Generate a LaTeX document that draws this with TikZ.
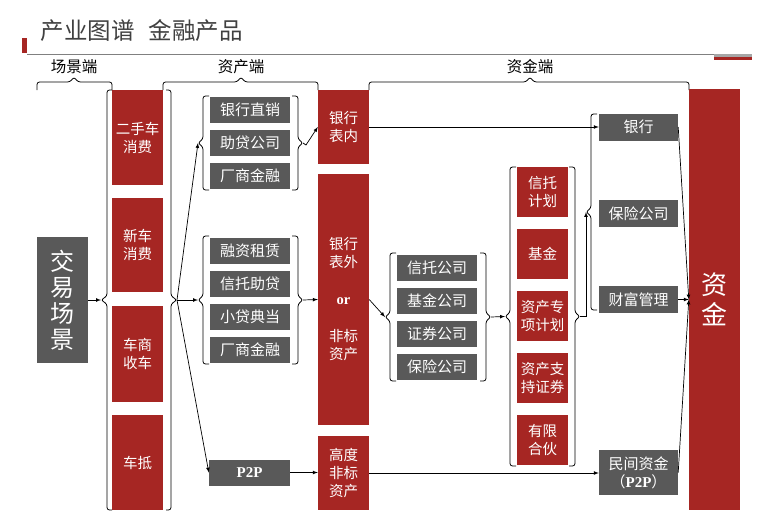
\documentclass[tikz,border=0pt]{standalone}
\usepackage{fontspec}
\setmainfont{Noto Sans CJK SC}
\newfontfamily\tnr{Liberation Serif}
\definecolor{brickred}{RGB}{166,38,35}
\definecolor{slate}{RGB}{89,89,89}
\tikzset{
  redbox/.style={fill=brickred,text=white,minimum width=51pt,inner sep=0pt,align=center,font=\fontsize{14.5}{18}\selectfont},
  greybox/.style={fill=slate,text=white,minimum width=80pt,minimum height=26pt,inner sep=0pt,align=center,font=\fontsize{15}{18}\selectfont},
  brk/.style={line width=0.8pt,rounded corners=2.5pt},
  link/.style={-latex,line width=0.7pt}
}
% side bracket: end x, bar x, tip x, top y, bottom y
\newcommand{\sidebrk}[5]{\draw[brk] (#1,#4)--(#2,#4)--(#2,{(#4+#5)/2-4})--(#3,{(#4+#5)/2})--(#2,{(#4+#5)/2+4})--(#2,#5)--(#1,#5);}
% top bracket: left x, right x, tip x
\newcommand{\topbrk}[3]{\draw[brk] (#1,90)--(#1,82)--(#3-4,82)--(#3,77)--(#3+4,82)--(#2,82)--(#2,90);}
\begin{document}
\begin{tikzpicture}[x=1pt,y=-1pt]
\useasboundingbox (0,0) rectangle (780,523);
% title bar
\fill[brickred] (22,38) rectangle (27,53);
\draw[gray,line width=1pt] (27,54)--(714,54);
\fill[brickred] (714,54) rectangle (752,60); \fill[gray!70] (714,54) rectangle (752,57);
\node[anchor=west,font=\fontsize{23.5}{26}\selectfont,text=black!75] (title) at (37,31) {产业图谱\hspace{0.6em}金融产品};
% headers and braces
\node[font=\fontsize{15.5}{18}\selectfont] (hscene) at (74,67) {场景端};
\node[font=\fontsize{15.5}{18}\selectfont] (hasset) at (241,67) {资产端};
\node[font=\fontsize{15.5}{18}\selectfont] (hfund) at (530,67) {资金端};
\topbrk{37}{112}{74} \topbrk{163}{318}{241} \topbrk{369}{689}{530}
% scene
\node[fill=slate,text=white,minimum width=51pt,minimum height=126pt,inner sep=0pt,align=center,font=\fontsize{24}{26}\selectfont] (scene) at (62.5,300) {交\\易\\场\\景};
\node[redbox,minimum height=95pt] (usedcar) at (137.5,137.5) {二手车\\消费};
\node[redbox,minimum height=94pt] (newcar) at (137.5,245) {新车\\消费};
\node[redbox,minimum height=96pt] (dealer) at (137.5,354) {车商\\收车};
\node[redbox,minimum height=95pt] (pledge) at (137.5,462.5) {车抵};
\sidebrk{112}{107}{101}{90}{510} \sidebrk{166}{171}{177}{90}{510}
\coordinate (t0l) at (101,300); \coordinate (t0r) at (177,300);
% asset side
\foreach \t [count=\i] in {银行直销,助贷公司,厂商金融} \node[greybox] (direct\i) at (250,77+33*\i) {\t};
\sidebrk{209}{203}{198}{96}{190} \sidebrk{292}{298}{303}{96}{190}
\coordinate (t1l) at (198,143); \coordinate (t1r) at (303,143);
\foreach \t [count=\i] in {融资租赁,信托助贷,小贷典当,厂商金融} \node[greybox] (lease\i) at (250,218+33*\i) {\t};
\sidebrk{209}{203}{198}{236}{364} \sidebrk{292}{298}{303}{236}{364}
\coordinate (t2l) at (198,300); \coordinate (t2r) at (303,300);
\node[greybox,minimum width=81pt,font=\tnr\bfseries\fontsize{15}{18}\selectfont] (ptp) at (249.5,472.5) {P2P};
\node[redbox,minimum height=74pt] (inside) at (343.5,127) {银行\\表内};
\node[redbox,minimum height=251pt] (outside) at (343.5,299.5) {银行\\表外\\[19pt]{\tnr\bfseries or}\\[19pt]非标\\资产};
\node[redbox,minimum height=74pt] (high) at (343.5,473) {高度\\非标\\资产};
% fund side
\foreach \t [count=\i] in {信托公司,基金公司,证券公司,保险公司} \node[greybox] (corp\i) at (437,235+33*\i) {\t};
\sidebrk{396}{390}{385}{253}{381} \sidebrk{480}{486}{491}{253}{381}
\coordinate (t3l) at (385,317); \coordinate (t3r) at (491,317);
\foreach \t [count=\i] in {信托\\计划,基金,资产专\\项计划,资产支\\持证券,有限\\合伙} \node[redbox,minimum height=50pt] (plan\i) at (542.5,130+62*\i) {\t};
\sidebrk{516}{510}{505}{167}{466} \sidebrk{569}{575}{580}{167}{466}
\coordinate (t4l) at (505,316.5); \coordinate (t4r) at (580,316.5);
\node[greybox,minimum width=79pt,minimum height=27pt] (bank) at (638.5,127) {银行};
\node[greybox,minimum width=79pt,minimum height=27pt] (insur) at (638.5,213.5) {保险公司};
\node[greybox,minimum width=79pt,minimum height=27pt] (wealth) at (638.5,299.5) {财富管理};
\node[greybox,minimum width=79pt,minimum height=45pt] (private) at (638.5,472.5) {民间资金\\（{\tnr\bfseries P2P}）};
\sidebrk{597}{591}{586}{114}{310}
\coordinate (t5) at (586,212);
\node[redbox,minimum height=421pt,font=\fontsize{26}{30}\selectfont] (fund) at (714.5,299.5) {资\\金};
% connectors
\draw[link] (scene.east)--(t0l);
\draw[link] (t0r)--(t1l); \draw[link] (t0r)--(t2l); \draw[link] (t0r)--(ptp.west);
\draw[link] (t1r)--++(3,2)--(inside.west); \draw[link] (t2r)--(outside.west);
\draw[link] (ptp.east)--(ptp.east -| high.west);
\draw[link] (inside.east)--(inside.east -| bank.west);
\draw[link] (outside.east)--(t3l); \draw[link] (t3r)--(t4l); \draw[link] (t4r)-|(t5);
\draw[link] (high.east)--(high.east -| private.west);
\draw[link] (bank.east)--(fund.west); \draw[link] (wealth.east)--(fund.west); \draw[link] (private.east)--(fund.west);
\end{tikzpicture}
\end{document}
